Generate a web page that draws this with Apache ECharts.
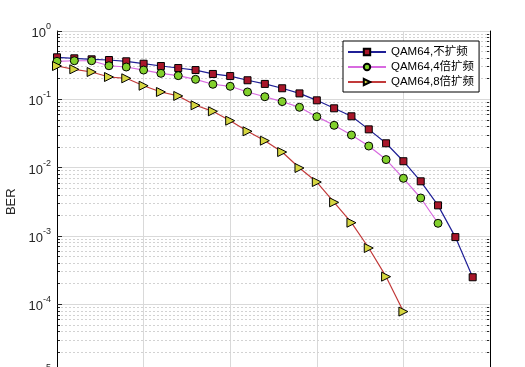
<!DOCTYPE html>
<html>
<head>
<meta charset="utf-8">
<script src="https://cdn.jsdelivr.net/npm/echarts@6/dist/echarts.min.js"></script>
<style>html,body{margin:0;padding:0;background:#fff;}#c{width:525px;height:367px;}</style>
</head>
<body>
<div id="c"></div>
<script>
const snr = [0,1,2,3,4,5,6,7,8,9,10,11,12,13,14,15,16,17,18,19,20,21,22,23,24];
const berNoSpread = [0.412,0.398,0.385,0.376,0.36,0.332,0.307,0.287,0.268,0.235,0.219,0.19,0.168,0.145,0.122,0.0966,0.0738,0.0564,0.0363,0.0227,0.0124,0.0063,0.0028,0.00096,0.000248];
const berSpread4 = [0.36,0.367,0.367,0.31,0.297,0.268,0.24,0.222,0.196,0.166,0.155,0.128,0.109,0.0925,0.0764,0.0557,0.0416,0.030,0.0207,0.0131,0.00697,0.00359,0.00153];
const berSpread8 = [0.307,0.275,0.251,0.212,0.203,0.158,0.128,0.112,0.0817,0.0667,0.0486,0.034,0.0248,0.0169,0.00987,0.00615,0.0031,0.00156,0.000665,0.000253,0.000078];
const seriesNames = ['QAM64,不扩频','QAM64,4倍扩频','QAM64,8倍扩频'];
const yMin = 1e-5, yMax = 1;
const xMin = 0, xMax = 25, xStep = 5;
const minorVals = [];
for (let k = -5; k < 0; k++) for (let m = 2; m <= 9; m++) minorVals.push(+(m * Math.pow(10, k)).toPrecision(3));

const pair = (xs, ys) => ys.map((v, i) => [xs[i], v]);
const font = 'Liberation Sans, Arial, Noto Sans CJK SC, sans-serif';
const axisCol = '#262626';

const chart = echarts.init(document.getElementById('c'), null, {renderer: 'canvas'});
chart.setOption({
  animation: false,
  backgroundColor: '#fff',
  textStyle: {fontFamily: font},
  grid: {left: 57, right: 35, top: 31, height: 341.5, containLabel: false, outerBoundsMode: 'none'},
  legend: {
    orient: 'vertical', left: 343, top: 41,
    itemWidth: 38, itemHeight: 8, itemGap: 1,
    padding: [4, 5, 3, 4],
    backgroundColor: '#fff', borderColor: '#000', borderWidth: 1,
    textStyle: {fontFamily: font, fontSize: 11.5, color: '#000', lineHeight: 14},
    data: seriesNames
  },
  xAxis: [{
    type: 'value', min: xMin, max: xMax, interval: xStep,
    axisLine: {show: false}, axisTick: {show: false}, axisLabel: {show: false},
    splitLine: {show: true, lineStyle: {color: '#d9d9d9', width: 1}}
  }],
  yAxis: [{
    type: 'log', logBase: 10, min: yMin, max: yMax, splitNumber: 5,
    position: 'left',
    name: 'BER', nameLocation: 'middle', nameGap: 31,
    nameTextStyle: {fontFamily: font, fontSize: 13, color: axisCol},
    axisLine: {show: true, lineStyle: {color: '#000', width: 1}},
    axisTick: {show: true, inside: true, length: 5, lineStyle: {color: axisCol}},
    axisLabel: {
      margin: 6, color: axisCol,
      formatter: v => '{b|10}{s|' + Math.round(Math.log10(v)) + '}',
      rich: {
        b: {fontSize: 13, color: axisCol, fontFamily: font, verticalAlign: 'bottom', lineHeight: 18},
        s: {fontSize: 9, color: axisCol, fontFamily: font, verticalAlign: 'top', lineHeight: 18}
      }
    },
    splitLine: {show: true, lineStyle: {color: '#d9d9d9', width: 1}},
    z: 3
  }, {
    type: 'log', logBase: 10, min: yMin, max: yMax, position: 'left',
    axisLine: {show: false}, axisLabel: {show: false},
    axisTick: {show: true, inside: true, length: 3, customValues: minorVals, lineStyle: {color: axisCol}},
    splitLine: {show: true, lineStyle: {color: '#d2d2d2', type: [2, 2], width: 1}},
    z: 1
  }, {
    type: 'log', logBase: 10, min: yMin, max: yMax, position: 'right',
    axisLine: {show: true, lineStyle: {color: '#000', width: 1}}, axisLabel: {show: false},
    axisTick: {show: true, inside: true, length: 3, customValues: minorVals, lineStyle: {color: axisCol}},
    splitLine: {show: false}
  }],
  series: [{
    name: seriesNames[0], type: 'line', data: pair(snr, berNoSpread),
    symbol: 'rect', symbolSize: 7,
    lineStyle: {color: '#1f1f96', width: 1.2},
    itemStyle: {color: '#a8162a', borderColor: '#000', borderWidth: 1},
    z: 3
  }, {
    name: seriesNames[1], type: 'line', data: pair(snr, berSpread4),
    symbol: 'circle', symbolSize: 8,
    lineStyle: {color: '#d86ae0', width: 1.2},
    itemStyle: {color: '#82d02c', borderColor: '#000', borderWidth: 1},
    z: 4
  }, {
    name: seriesNames[2], type: 'line', data: pair(snr, berSpread8),
    symbol: 'triangle', symbolSize: 9, symbolRotate: -90,
    lineStyle: {color: '#c23a3a', width: 1.2},
    itemStyle: {color: '#d6d640', borderColor: '#000', borderWidth: 1},
    z: 5
  }]
});
</script>
</body>
</html>
